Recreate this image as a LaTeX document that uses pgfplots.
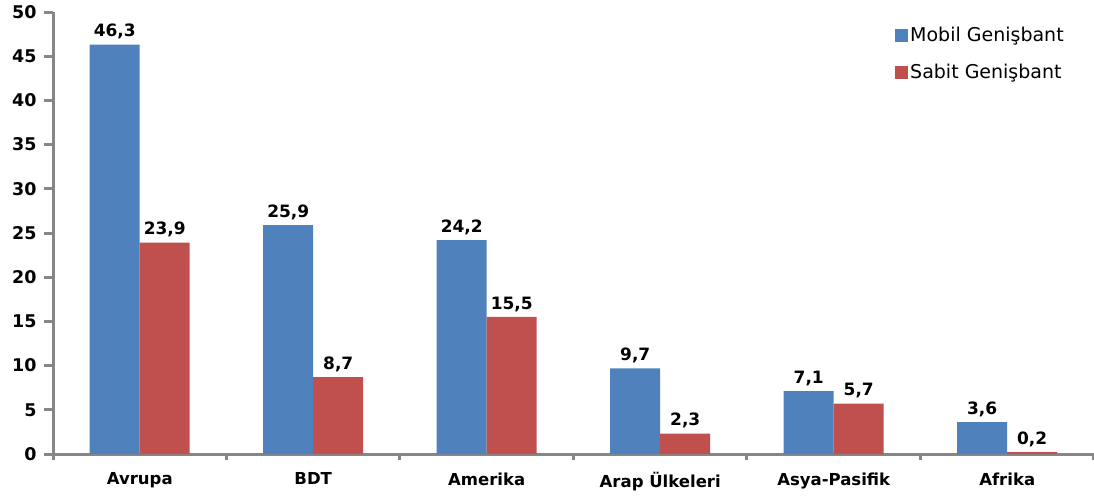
\documentclass[border=0pt]{standalone}
\usepackage{pgfplots}
\pgfplotsset{compat=1.18}
\usepackage{fontspec}
\setmainfont{DejaVu Sans}
\definecolor{bblue}{HTML}{4F81BD}
\definecolor{bred}{HTML}{C0504D}
\definecolor{axgray}{HTML}{868686}
\begin{document}
\begin{tikzpicture}
\useasboundingbox (-53pt,-44pt) rectangle (1041pt,454pt);
\begin{axis}[
  at={(0pt,0pt)}, anchor=south west,
  scale only axis, width=1041pt, height=442pt,
  xmin=-0.5, xmax=5.5, ymin=0, ymax=50,
  ybar=0pt, bar width=50pt,
  axis lines=left,
  axis line style={-, draw=axgray, line width=3pt},
  major y tick style={draw=axgray, line width=3pt},
  minor x tick style={draw=axgray, line width=3pt},
  major x tick style={draw=none},
  tick align=outside,
  major tick length=9pt,
  minor tick length=6pt,
  xtick={0,1,2,3,4,5},
  xticklabels={Avrupa,BDT,Amerika,Arap Ülkeleri,Asya-Pasifik,Afrika},
  minor xtick={-0.5,0.5,1.5,2.5,3.5,4.5,5.5},
  ytick={0,5,...,50},
  /pgf/number format/assume math mode=true,
  x tick label style={font=\fontsize{16.5}{19}\selectfont\bfseries, yshift=-6pt},
  y tick label style={font=\fontsize{17.5}{20}\selectfont\bfseries, xshift=-4pt},
  nodes near coords={\pgfmathprintnumber[fixed,fixed zerofill,precision=1,use comma,assume math mode=true]{\pgfplotspointmeta}},
  every node near coord/.append style={font=\fontsize{17}{19}\selectfont\bfseries, text=black, yshift=2pt},
  legend style={at={(0.806,0.975)}, anchor=north west, draw=none, fill=none,
    font=\fontsize{19}{22}\selectfont, row sep=17pt},
  legend cell align=left,
  legend image code/.code={\fill[#1,draw=none] (0pt,-6.5pt) rectangle (13pt,6.5pt);},
  clip=false,
]
\addplot[fill=bblue, draw=none] coordinates {(0,46.3) (1,25.9) (2,24.2) (3,9.7) (4,7.1) (5,3.6)};
\addplot[fill=bred, draw=none] coordinates {(0,23.9) (1,8.7) (2,15.5) (3,2.3) (4,5.7) (5,0.2)};
\legend{Mobil Genişbant, Sabit Genişbant}
\end{axis}
\end{tikzpicture}
\end{document}
